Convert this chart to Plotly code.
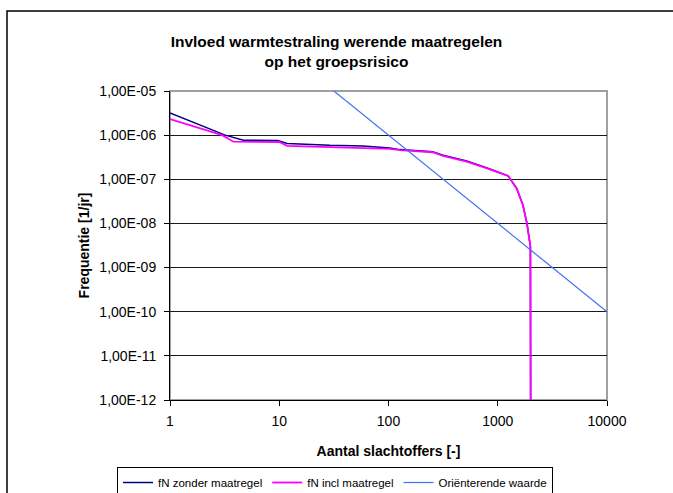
import plotly.graph_objects as go

# --- data ---
n_zonder = [1, 3.2, 4.7, 9.7, 11.8, 29, 58, 103, 127, 254, 316, 450, 520, 800, 1245, 1490, 1700, 1850, 1990, 2000]
f_zonder = [3.2e-6, 1.0e-6, 7.7e-7, 7.6e-7, 6.5e-7, 5.9e-7, 5.7e-7, 5.1e-7, 4.7e-7, 4.2e-7, 3.5e-7, 2.9e-7,
            2.6e-7, 1.8e-7, 1.2e-7, 6.2e-8, 2.6e-8, 1.0e-8, 3.0e-9, 1e-12]

n_incl = [1, 3.0, 3.8, 10, 11.8, 29, 58, 103, 127, 254, 316, 450, 520, 800, 1245, 1490, 1700, 1850, 1990, 2000]
f_incl = [2.3e-6, 1.0e-6, 7.1e-7, 7.0e-7, 5.7e-7, 5.3e-7, 5.0e-7, 4.9e-7, 4.6e-7, 4.1e-7, 3.4e-7, 2.8e-7,
          2.5e-7, 1.77e-7, 1.19e-7, 6.2e-8, 2.6e-8, 1.0e-8, 3.0e-9, 1e-12]

n_orient = [10, 100, 1000, 10000]
f_orient = [1e-4, 1e-6, 1e-8, 1e-10]

x_ticks = [1, 10, 100, 1000, 10000]
x_ticktext = ["1", "10", "100", "1000", "10000"]
y_ticks = [1e-5, 1e-6, 1e-7, 1e-8, 1e-9, 1e-10, 1e-11, 1e-12]
y_ticktext = ["1,00E-05", "1,00E-06", "1,00E-07", "1,00E-08", "1,00E-09", "1,00E-10", "1,00E-11", "1,00E-12"]

FONT = "Liberation Sans, Arial, sans-serif"

fig = go.Figure()
fig.add_trace(go.Scatter(x=n_zonder, y=f_zonder, mode="lines", name="fN zonder maatregel",
                         line=dict(color="#000080", width=1.5)))
fig.add_trace(go.Scatter(x=n_incl, y=f_incl, mode="lines", name="fN incl maatregel",
                         line=dict(color="#FF00FF", width=1.8)))
fig.add_trace(go.Scatter(x=n_orient, y=f_orient, mode="lines", name="Oriënterende waarde",
                         line=dict(color="#3F6FF5", width=1.2)))

W, H = 673, 493
L, R, T, B = 170, 607, 91, 400
pw, ph = R - L, B - T

def px(xp):
    return (xp - L) / pw

def py(yp):
    return (B - yp) / ph

fig.update_layout(
    width=W, height=H,
    margin=dict(l=L, r=W - R, t=T, b=H - B, autoexpand=False),
    paper_bgcolor="white", plot_bgcolor="white",
    font=dict(family=FONT, size=13, color="black"),
    title=dict(text="<b>Invloed warmtestraling werende maatregelen<br>op het groepsrisico</b>",
               x=0.5, xref="container", xanchor="center",
               y=1 - 46.5 / H, yref="container", yanchor="middle",
               font=dict(size=15.5, family=FONT)),
    showlegend=True,
    legend=dict(orientation="h", x=117 / W, xref="container", xanchor="left",
                y=1 - 467 / H, yref="container", yanchor="top",
                bordercolor="black", borderwidth=1, font=dict(size=11.5, family=FONT),
                itemwidth=30, tracegroupgap=0, bgcolor="white"),
    xaxis=dict(type="log", range=[0, 4], tickvals=x_ticks, ticktext=x_ticktext,
               showgrid=False, zeroline=False, showline=True, linecolor="black", linewidth=1,
               ticks="outside", ticklen=5, tickcolor="black", ticklabelstandoff=3,
               title=dict(text="<b>Aantal slachtoffers [-]</b>", font=dict(size=14), standoff=18),
               tickfont=dict(size=14), automargin=False),
    yaxis=dict(type="log", range=[-12, -5], tickvals=y_ticks, ticktext=y_ticktext,
               showgrid=True, gridcolor="#1a1a1a", gridwidth=1, zeroline=False,
               showline=True, linecolor="black", linewidth=1,
               ticks="outside", ticklen=5, tickcolor="black", ticklabelstandoff=5,
               title=dict(text="<b>Frequentie [1/jr]</b>", font=dict(size=14), standoff=6),
               tickfont=dict(size=14), automargin=False),
    shapes=[
        # plot-area border (gray top/right)
        dict(type="rect", xref="paper", yref="paper", x0=0, x1=1, y0=0, y1=1,
             line=dict(color="#A0A0A0", width=2), layer="below"),
        # outer chart border
        dict(type="rect", xref="paper", yref="paper", x0=px(7), x1=px(690), y0=py(510), y1=py(11),
             line=dict(color="black", width=1.5), layer="below"),
    ],
)

fig.write_html("out.html")
